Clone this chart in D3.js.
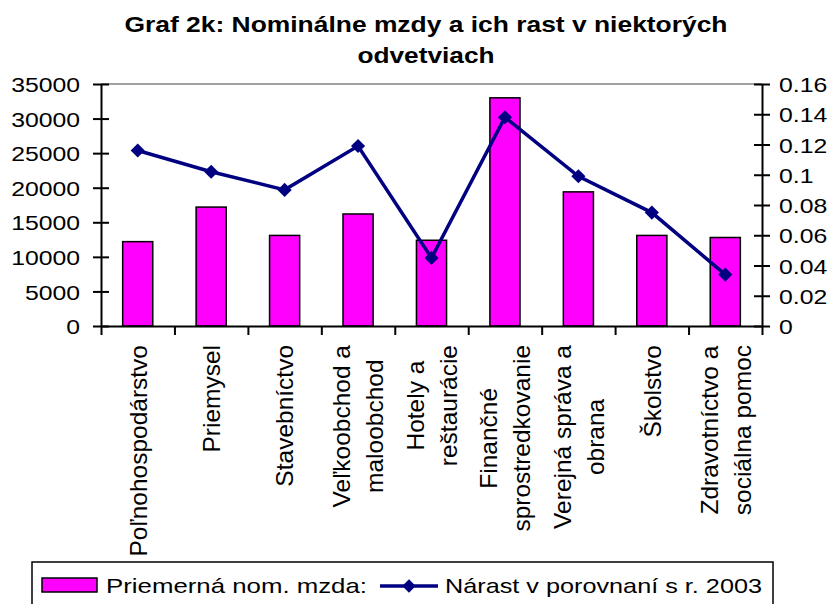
<!DOCTYPE html>
<html lang="sk">
<head>
  <meta charset="UTF-8" />
  <title>Graf 2k</title>
  <script src="https://d3js.org/d3.v7.min.js"></script>
  <style>
    body {
      margin: 0;
      padding: 0;
      background: white;
    }
    svg {
      display: block;
      font-family: "Liberation Sans", Arial, sans-serif;
    }
  </style>
</head>
<body>
  <svg id="chart" width="833" height="604"></svg>

  <script>
    // data
    const categories = [
      ["Poľnohospodárstvo"],
      ["Priemysel"],
      ["Stavebníctvo"],
      ["Veľkoobchod a", "maloobchod"],
      ["Hotely a", "reštaurácie"],
      ["Finančné", "sprostredkovanie"],
      ["Verejná správa a", "obrana"],
      ["Školstvo"],
      ["Zdravotníctvo a", "sociálna pomoc"]
    ];
    const wages = [12200, 17200, 13100, 16200, 12400, 33000, 19400, 13100, 12800];
    const growth = [0.116, 0.102, 0.090, 0.119, 0.045, 0.138, 0.099, 0.075, 0.034];
    const leftTicks = [0, 5000, 10000, 15000, 20000, 25000, 30000, 35000];
    const rightTicks = [0, 0.02, 0.04, 0.06, 0.08, 0.1, 0.12, 0.14, 0.16];
    const titleLines = ["Graf 2k: Nominálne mzdy a ich rast v niektorých", "odvetviach"];
    const legendLabels = ["Priemerná nom. mzda:", "Nárast v porovnaní s r. 2003"];

    const svg = d3.select("#chart");
    const plotLeft = 101, plotRight = 762, plotTop = 84, plotBottom = 326;
    const stretch = 1.18; // text in the original is a bit wider than the font

    const x = d3.scaleBand()
      .domain(d3.range(categories.length))
      .range([plotLeft, plotRight])
      .paddingInner(0.59)
      .paddingOuter(0.295);

    const xEdge = d3.scaleLinear().domain([0, categories.length]).range([plotLeft, plotRight]);

    const yL = d3.scaleLinear().domain([0, 35000]).range([plotBottom, plotTop]);
    const yR = d3.scaleLinear().domain([0, 0.16]).range([plotBottom, plotTop]);

    // title
    svg.selectAll("text.title")
      .data(titleLines)
      .enter()
      .append("text")
      .attr("class", "title")
      .attr("x", 426)
      .attr("y", (d, i) => 32 + i * 31)
      .attr("text-anchor", "middle")
      .style("font-size", "22px")
      .style("font-weight", "bold")
      .attr("textLength", (d, i) => i === 0 ? 603 : 137)
      .attr("lengthAdjust", "spacingAndGlyphs")
      .text(d => d);

    // plot area top border
    svg.append("line")
      .attr("x1", plotLeft).attr("x2", plotRight)
      .attr("y1", plotTop).attr("y2", plotTop)
      .attr("stroke", "#808080")
      .attr("stroke-width", 1.5);

    // bars
    svg.selectAll("rect.bar")
      .data(wages)
      .enter()
      .append("rect")
      .attr("class", "bar")
      .attr("x", (d, i) => x(i))
      .attr("width", x.bandwidth())
      .attr("y", d => yL(d))
      .attr("height", d => plotBottom - yL(d))
      .attr("fill", "#ff00ff")
      .attr("stroke", "black")
      .attr("stroke-width", 1.5);

    // axes
    function styleAxis(g) {
      g.select(".domain").attr("stroke", "black").attr("stroke-width", 2);
      g.selectAll(".tick line").attr("stroke", "black").attr("stroke-width", 2);
      g.selectAll(".tick text")
        .style("font-size", "21px")
        .attr("fill", "black")
        .attr("dy", "0.36em");
    }

    const gL = svg.append("g")
      .attr("transform", `translate(${plotLeft},0)`)
      .call(d3.axisLeft(yL).tickValues(leftTicks).tickSize(8).tickSizeOuter(0).tickFormat(d3.format("d")));
    styleAxis(gL);
    gL.selectAll(".tick line").attr("x1", 8);
    gL.selectAll(".tick text")
      .attr("x", -21 / stretch)
      .attr("transform", `scale(${stretch},1)`);

    const gR = svg.append("g")
      .attr("transform", `translate(${plotRight},0)`)
      .call(d3.axisRight(yR).tickValues(rightTicks).tickSize(8).tickSizeOuter(0).tickFormat(d => String(+d.toFixed(2))));
    styleAxis(gR);
    gR.selectAll(".tick line").attr("x1", -8);
    gR.selectAll(".tick text")
      .attr("x", 17 / stretch)
      .attr("transform", `scale(${stretch},1)`);

    const gX = svg.append("g")
      .attr("transform", `translate(0,${plotBottom})`)
      .call(d3.axisBottom(xEdge).tickValues(d3.range(categories.length + 1)).tickSize(9).tickSizeOuter(0).tickFormat(""));
    styleAxis(gX);

    // category labels, rotated, lines centred on each other
    const labelTop = 345, lineGap = 33, labelSize = 24.5;
    const labels = svg.selectAll("g.cat")
      .data(categories)
      .enter()
      .append("g")
      .attr("class", "cat");

    labels.each(function(lines, i) {
      const g = d3.select(this);
      const texts = g.selectAll("text")
        .data(lines)
        .enter()
        .append("text")
        .style("font-size", labelSize + "px")
        .attr("text-anchor", "middle")
        .text(d => d);
      let maxLen = 0;
      texts.each(function() { maxLen = Math.max(maxLen, this.getComputedTextLength()); });
      const cy = labelTop + maxLen / 2;
      const cx = x(i) + x.bandwidth() / 2;
      texts.attr("transform", (d, j) => {
        const off = (j - (lines.length - 1) / 2) * lineGap;
        return `translate(${cx + off + 0.36 * labelSize},${cy}) rotate(-90)`;
      });
    });

    // growth line
    const line = d3.line()
      .x((d, i) => x(i) + x.bandwidth() / 2)
      .y(d => yR(d));

    svg.append("path")
      .datum(growth)
      .attr("d", line)
      .attr("fill", "none")
      .attr("stroke", "#000080")
      .attr("stroke-width", 3.5);

    const diamond = d3.symbol().type(d3.symbolSquare).size(100);
    svg.selectAll("path.marker")
      .data(growth)
      .enter()
      .append("path")
      .attr("class", "marker")
      .attr("d", diamond)
      .attr("transform", (d, i) => `translate(${x(i) + x.bandwidth() / 2},${yR(d)}) rotate(45)`)
      .attr("fill", "#000080");

    // legend
    const legend = svg.append("g");
    legend.append("rect")
      .attr("x", 32).attr("y", 562)
      .attr("width", 741).attr("height", 60)
      .attr("fill", "white")
      .attr("stroke", "black")
      .attr("stroke-width", 1.5);

    legend.append("rect")
      .attr("x", 42).attr("y", 578)
      .attr("width", 55).attr("height", 14)
      .attr("fill", "#ff00ff")
      .attr("stroke", "black")
      .attr("stroke-width", 1.5);

    legend.append("line")
      .attr("x1", 380).attr("x2", 438)
      .attr("y1", 586).attr("y2", 586)
      .attr("stroke", "#000080")
      .attr("stroke-width", 3.5);

    legend.append("path")
      .attr("d", d3.symbol().type(d3.symbolSquare).size(90))
      .attr("transform", "translate(409,586) rotate(45)")
      .attr("fill", "#000080");

    legend.selectAll("text")
      .data(legendLabels)
      .enter()
      .append("text")
      .attr("x", (d, i) => i === 0 ? 106 : 445)
      .attr("y", 593)
      .style("font-size", "21px")
      .attr("textLength", (d, i) => i === 0 ? 261 : 317)
      .attr("lengthAdjust", "spacingAndGlyphs")
      .text(d => d);
  </script>
</body>
</html>
